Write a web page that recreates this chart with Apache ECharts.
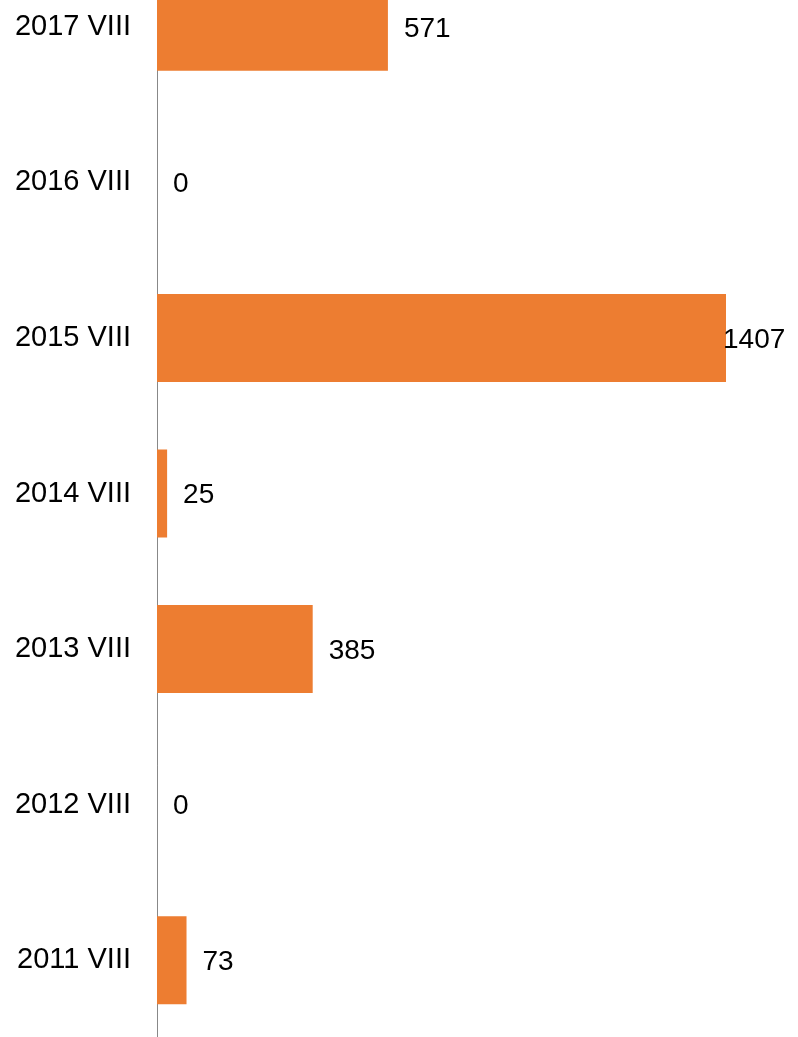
<!DOCTYPE html>
<html>
<head>
<meta charset="utf-8">
<script src="https://cdn.jsdelivr.net/npm/echarts@6/dist/echarts.min.js"></script>
<style>
html,body{margin:0;padding:0;background:#fff;overflow:hidden;}
#chart{width:798px;height:1089px;margin-top:-51px;}
</style>
</head>
<body>
<div id="chart"></div>
<script>
const categories = ['2011 VIII', '2012 VIII', '2013 VIII', '2014 VIII', '2015 VIII', '2016 VIII', '2017 VIII'];
const values = [73, 0, 385, 25, 1407, 0, 571];

const maxVal = Math.max(...values);
const chart = echarts.init(document.getElementById('chart'));
chart.setOption({
  animation: false,
  grid: { left: 157, top: 0, height: 1089, width: 569 },
  xAxis: {
    type: 'value', min: 0, max: maxVal,
    show: false
  },
  yAxis: {
    type: 'category',
    data: categories,
    axisLine: { show: true, lineStyle: { color: '#888888', width: 1 } },
    axisTick: { show: false },
    axisLabel: { margin: 26, fontSize: 29, color: '#000', padding: [4, 0, 0, 0], fontFamily: 'Liberation Sans, Arial, sans-serif' }
  },
  series: [{
    type: 'bar',
    barWidth: 88,
    itemStyle: { color: '#ED7D31' },
    label: {
      show: true, position: 'right', distance: 16, offset: [0, 2],
      fontSize: 28, color: '#000', fontFamily: 'Liberation Sans, Arial, sans-serif'
    },
    data: values.map(v => v === maxVal ? { value: v, label: { distance: -3 } } : v)
  }]
});
</script>
</body>
</html>
